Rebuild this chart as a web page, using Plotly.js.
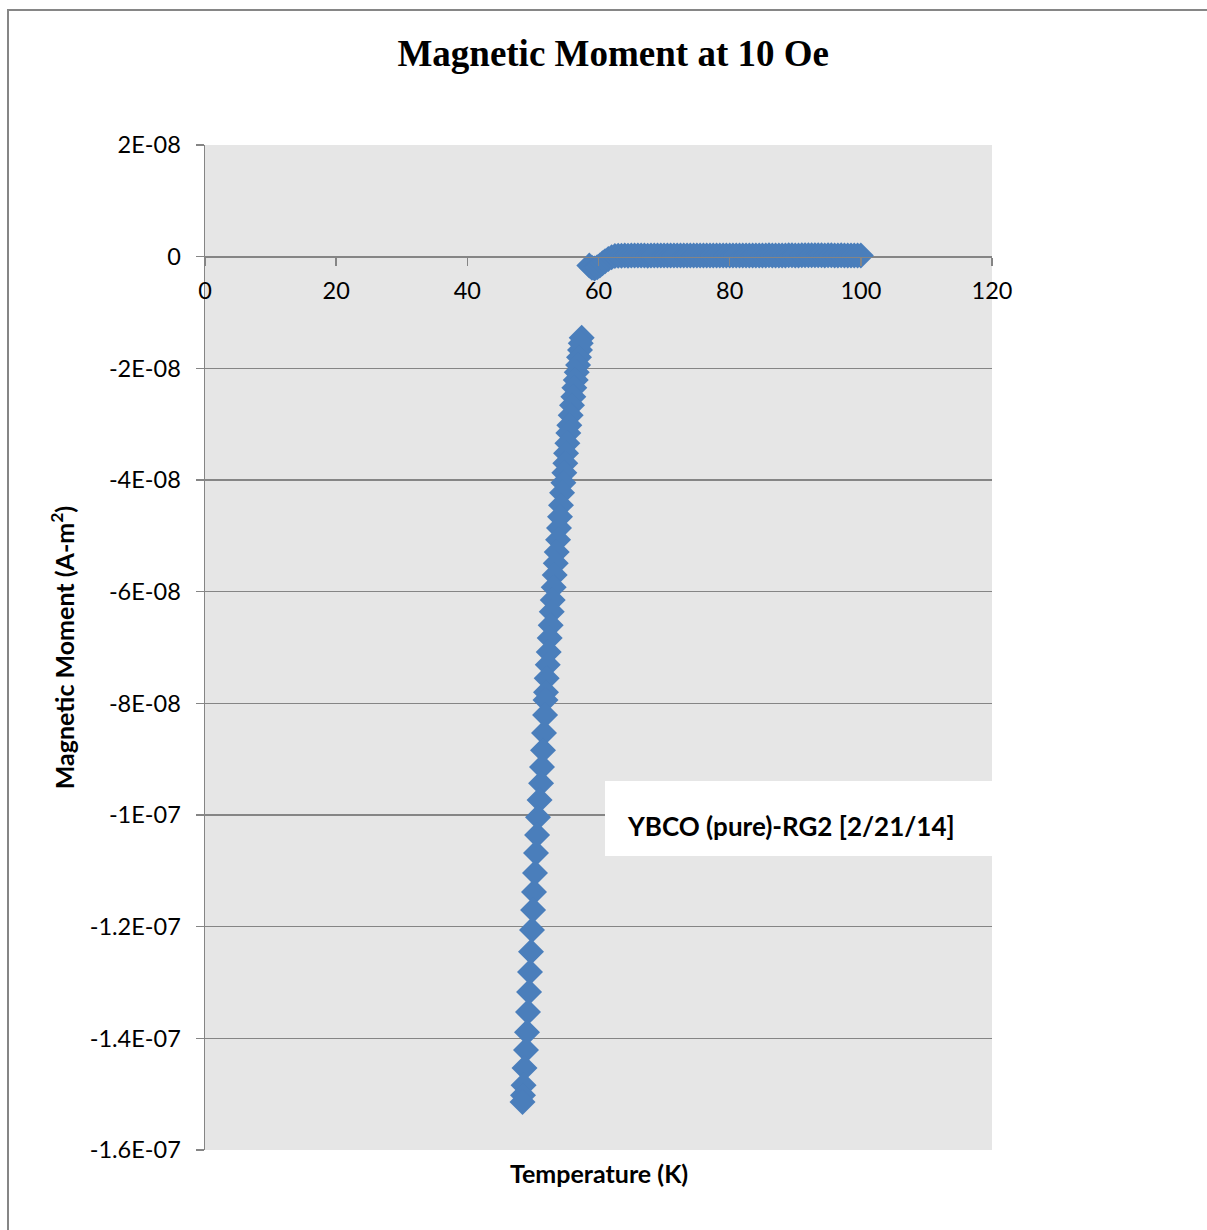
<!DOCTYPE html>
<html>
<head>
<meta charset="utf-8">
<script src="https://cdn.plot.ly/plotly-3.0.1.min.js"></script>
<style>
  html, body { margin: 0; padding: 0; background: #ffffff; }
  #wrap { position: relative; width: 1207px; height: 1230px; }
  #chart { position: absolute; left: 0; top: 0; width: 1207px; height: 1230px; }
  #frame { position: absolute; left: 7px; top: 9px; width: 1210px; height: 1230px;
           border-left: 2px solid #868686; border-top: 2px solid #868686; pointer-events: none; }
</style>
</head>
<body>
<div id="wrap">
  <div id="chart"></div>
  <div id="frame"></div>
</div>
<script>
// ---- Data ----
const seriesName = "YBCO (pure)-RG2 [2/21/14]";
const xTitle = "Temperature (K)";
const yTitle = "Magnetic Moment (A-m<sup>2</sup>)";

// Superconducting branch (below Tc), temperature in K
const tempLow = [57.44, 57.29, 57.18, 57.03, 56.88, 56.68, 56.53, 56.31, 56.16, 55.96,
  55.76, 55.55, 55.40, 55.25, 55.05, 54.94, 54.79, 54.64, 54.44, 54.28,
  54.13, 53.98, 53.83, 53.63, 53.48, 53.32, 53.17, 53.02, 52.87, 52.71,
  52.56, 52.41, 52.26, 52.10, 52.00, 51.92, 51.85, 51.69, 51.54, 51.39,
  51.24, 51.01, 50.78, 50.63, 50.47, 50.32, 50.17, 50.02, 49.86, 49.71,
  49.56, 49.41, 49.25, 49.10, 48.95, 48.72, 48.57, 48.49, 48.41];
// Magnetic moment in A-m^2
const momentLow = [-1.45e-8, -1.55e-8, -1.67e-8, -1.80e-8, -1.94e-8, -2.07e-8, -2.21e-8, -2.35e-8, -2.51e-8, -2.66e-8,
  -2.84e-8, -3.02e-8, -3.16e-8, -3.34e-8, -3.52e-8, -3.70e-8, -3.87e-8, -4.05e-8, -4.23e-8, -4.45e-8,
  -4.66e-8, -4.86e-8, -5.07e-8, -5.29e-8, -5.49e-8, -5.70e-8, -5.92e-8, -6.15e-8, -6.36e-8, -6.60e-8,
  -6.83e-8, -7.08e-8, -7.31e-8, -7.55e-8, -7.80e-8, -7.94e-8, -8.21e-8, -8.53e-8, -8.84e-8, -9.14e-8,
  -9.43e-8, -9.73e-8, -10.04e-8, -10.36e-8, -10.68e-8, -11.04e-8, -11.38e-8, -11.70e-8, -12.06e-8, -12.45e-8,
  -12.81e-8, -13.17e-8, -13.53e-8, -13.89e-8, -14.21e-8, -14.53e-8, -14.84e-8, -15.02e-8, -15.14e-8];

// Normal-state branch (near and above Tc)
const tempHigh = [58.6, 59.0, 59.4, 59.8, 60.2, 60.6, 61.0, 61.5, 62.0, 62.5,
  63.0, 63.5, 64.0, 64.5, 65.0, 65.5, 66.0, 66.5, 67.0, 67.5,
  68.0, 68.5, 69.0, 69.5, 70.0, 70.5, 71.0, 71.5, 72.0, 72.5,
  73.0, 73.5, 74.0, 74.5, 75.0, 75.5, 76.0, 76.5, 77.0, 77.5,
  78.0, 78.5, 79.0, 79.5, 80.0, 80.5, 81.0, 81.5, 82.0, 82.5,
  83.0, 83.5, 84.0, 84.5, 85.0, 85.5, 86.0, 86.5, 87.0, 87.5,
  88.0, 88.5, 89.0, 89.5, 90.0, 90.5, 91.0, 91.5, 92.0, 92.5,
  93.0, 93.5, 94.0, 94.5, 95.0, 95.5, 96.0, 96.5, 97.0, 97.5,
  98.0, 98.5, 99.0, 99.5, 100.0];
const momentHigh = [-1.6e-9, -2.0e-9, -2.1e-9, -1.9e-9, -1.6e-9, -1.2e-9, -0.8e-9, -0.4e-9, -0.1e-9, 0.1e-9,
  0.15e-9, 0.18e-9, 0.2e-9, 0.18e-9, 0.2e-9, 0.22e-9, 0.2e-9, 0.21e-9, 0.2e-9, 0.18e-9,
  0.2e-9, 0.22e-9, 0.21e-9, 0.2e-9, 0.22e-9, 0.2e-9, 0.23e-9, 0.21e-9, 0.2e-9, 0.22e-9,
  0.21e-9, 0.2e-9, 0.22e-9, 0.2e-9, 0.21e-9, 0.2e-9, 0.22e-9, 0.23e-9, 0.21e-9, 0.2e-9,
  0.22e-9, 0.2e-9, 0.21e-9, 0.22e-9, 0.2e-9, 0.21e-9, 0.23e-9, 0.2e-9, 0.22e-9, 0.21e-9,
  0.2e-9, 0.22e-9, 0.23e-9, 0.21e-9, 0.2e-9, 0.22e-9, 0.24e-9, 0.22e-9, 0.21e-9, 0.2e-9,
  0.22e-9, 0.23e-9, 0.25e-9, 0.24e-9, 0.22e-9, 0.23e-9, 0.25e-9, 0.24e-9, 0.26e-9, 0.25e-9,
  0.24e-9, 0.26e-9, 0.25e-9, 0.23e-9, 0.25e-9, 0.24e-9, 0.22e-9, 0.23e-9, 0.24e-9, 0.22e-9,
  0.23e-9, 0.22e-9, 0.2e-9, 0.22e-9, 0.2e-9];

// Tick labels
const yTickVals = [2e-8, 0, -2e-8, -4e-8, -6e-8, -8e-8, -1e-7, -1.2e-7, -1.4e-7, -1.6e-7];
const yTickText = ["2E-08", "0", "-2E-08", "-4E-08", "-6E-08", "-8E-08", "-1E-07", "-1.2E-07", "-1.4E-07", "-1.6E-07"];
const xTickVals = [0, 20, 40, 60, 80, 100, 120];
const xTickText = ["0", "20", "40", "60", "80", "100", "120"];

// ---- Plot ----
const temps = tempLow.concat(tempHigh);
const moments = momentLow.concat(momentHigh);

const yMin = -1.6e-7, yMax = 2e-8;
const zeroPos = (0 - yMin) / (yMax - yMin);

const sansFont = "Lato, 'Open Sans', 'Liberation Sans', sans-serif";
const gridGray = "#858585";

const trace = {
  type: "scatter",
  mode: "markers",
  name: seriesName,
  x: temps,
  y: moments,
  xaxis: "x",
  yaxis: "y",
  showlegend: false,
  marker: { symbol: "diamond", size: 20, color: "#4a7ebb", line: { width: 0 } }
};

const layout = {
  width: 1207,
  height: 1230,
  margin: { l: 205, r: 215, t: 145, b: 80, pad: 0 },
  paper_bgcolor: "#ffffff",
  plot_bgcolor: "#e6e6e6",
  showlegend: false,
  title: {
    text: "<b>Magnetic Moment at 10 Oe</b>",
    font: { family: "'Liberation Serif', 'Times New Roman', serif", size: 37, color: "#000000" },
    xref: "container", x: 0.508, xanchor: "center",
    yref: "container", y: 1 - 53 / 1230, yanchor: "middle"
  },
  // x axis crosses the y axis at zero, as in the reference
  xaxis: {
    anchor: "free",
    position: zeroPos,
    side: "bottom",
    range: [0, 120],
    tickmode: "array",
    tickvals: xTickVals,
    ticktext: xTickText,
    ticks: "outside",
    ticklen: 8,
    tickwidth: 1.5,
    tickcolor: gridGray,
    ticklabelstandoff: 5,
    showline: true,
    linecolor: gridGray,
    linewidth: 1.5,
    showgrid: false,
    zeroline: false,
    tickfont: { family: sansFont, size: 23.5, color: "#000000" }
  },
  yaxis: {
    range: [yMin, yMax],
    tickmode: "array",
    tickvals: yTickVals,
    ticktext: yTickText,
    ticks: "outside",
    ticklen: 8,
    tickwidth: 1.5,
    tickcolor: gridGray,
    ticklabelstandoff: 10,
    showline: true,
    linecolor: gridGray,
    linewidth: 1.5,
    showgrid: true,
    gridcolor: gridGray,
    gridwidth: 1.5,
    zeroline: false,
    tickfont: { family: sansFont, size: 23.5, color: "#000000" },
    title: {
      text: "<b>" + yTitle + "</b>",
      font: { family: sansFont, size: 25, color: "#000000" },
      standoff: 8
    }
  },
  shapes: [{
    type: "rect", xref: "paper", yref: "paper", layer: "above",
    x0: (605 - 205) / 787, x1: 1, y0: (1150 - 856) / 1005, y1: (1150 - 781) / 1005,
    fillcolor: "#ffffff", line: { width: 0 }
  }],
  annotations: [{
    // series label box (Excel-style legend without a marker)
    text: "<b>" + seriesName + "</b>",
    xref: "paper", yref: "paper",
    x: (625 - 205) / 787, xanchor: "left",
    y: (1150 - 826) / 1005, yanchor: "middle",
    showarrow: false,
    font: { family: sansFont, size: 26, color: "#000000" }
  }, {
    // x-axis title at the bottom of the plot area
    text: "<b>" + xTitle + "</b>",
    xref: "paper", yref: "paper",
    x: 0.5, xanchor: "center",
    y: (1150 - 1173) / 1005, yanchor: "middle",
    showarrow: false,
    font: { family: sansFont, size: 25, color: "#000000" }
  }]
};

Plotly.newPlot("chart", [trace], layout, { staticPlot: true, displayModeBar: false });
</script>
</body>
</html>
